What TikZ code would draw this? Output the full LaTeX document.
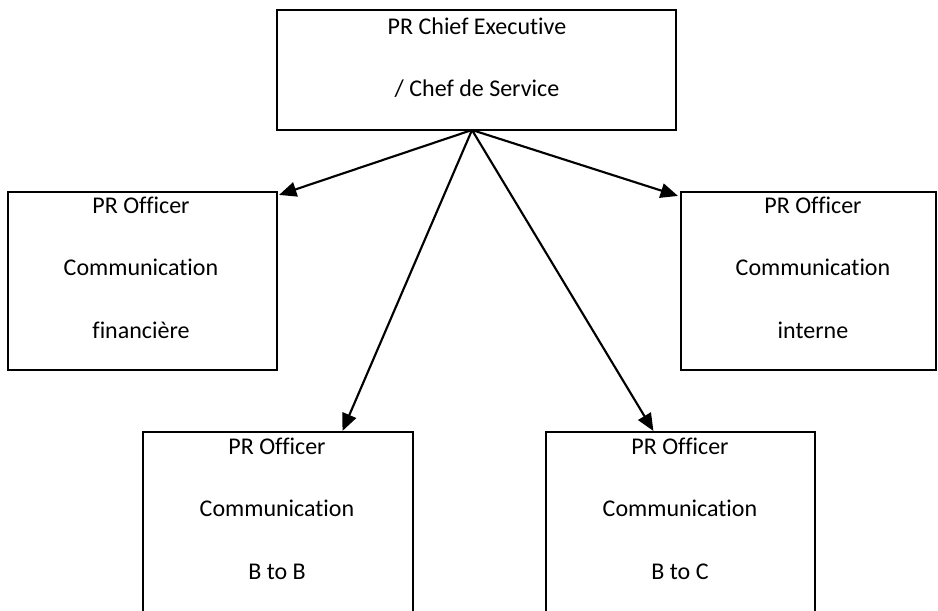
\documentclass[tikz,border=0pt]{standalone}
\usepackage{fontspec}
\setmainfont{Carlito}[Ligatures=NoCommon]
\usetikzlibrary{arrows.meta,calc}
\begin{document}
\begin{tikzpicture}[x=0.75pt,y=-0.75pt,
  box/.style={draw=black,line width=1.6pt,rectangle,inner sep=0pt,fill=none},
  txt/.style={anchor=base,inner sep=0pt,font=\fontsize{18}{22}\selectfont},
  conn/.style={line width=1.6pt,-{Triangle[length=13pt,width=11pt]}}]
\clip (0,0) rectangle (938,610);
\fill[white] (0,0) rectangle (938,610);
% boxes
\node[box,minimum width=299.25pt,minimum height=90pt] (top) at (476.5,70) {};
\node[box,minimum width=201.75pt,minimum height=133.5pt] (lb) at (142.5,281) {};
\node[box,minimum width=191.25pt,minimum height=133.5pt] (rb) at (808.5,281) {};
\node[box,minimum width=202.5pt,minimum height=171pt] (bl) at (278,546) {};
\node[box,minimum width=201.75pt,minimum height=171pt] (br) at (680.5,546) {};
% texts
\node[txt] (t1) at (477,35) {PR Chief Executive};
\node[txt] (t2) at (477,97) {/ Chef de Service};
\node[txt] (l1) at (141,213) {PR Officer};
\node[txt] (l2) at (141,275) {Communication};
\node[txt] (l3) at (141,338) {financière};
\node[txt] (r1) at (813,213) {PR Officer};
\node[txt] (r2) at (813,275) {Communication};
\node[txt] (r3) at (813,338) {interne};
\node[txt] (a1) at (277,454) {PR Officer};
\node[txt] (a2) at (277,516) {Communication};
\node[txt] (a3) at (277,579) {B to B};
\node[txt] (c1) at (680,454) {PR Officer};
\node[txt] (c2) at (680,516) {Communication};
\node[txt] (c3) at (680,579) {B to C};
% connectors
\coordinate (src) at (472,130);
\draw[conn] (src) -- ($(lb.north east)+(1,4)$);
\draw[conn] (src) -- ($(rb.north west)+(-2,5)$);
\draw[conn] (src) -- ($(bl.north west)!0.737!(bl.north east)$);
\draw[conn] (src) -- ($(br.north west)!0.40!(br.north east)$);
\end{tikzpicture}
\end{document}
